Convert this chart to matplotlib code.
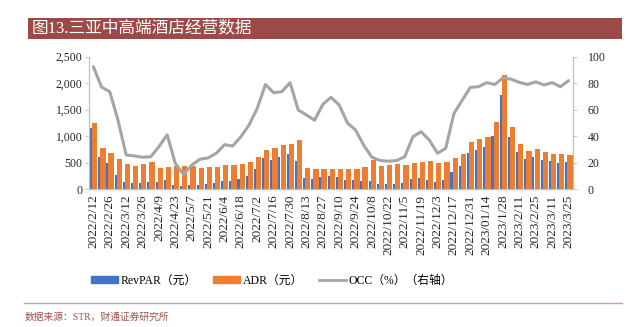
import numpy as np
import matplotlib.pyplot as plt
from matplotlib.patches import Patch, Rectangle
from matplotlib.lines import Line2D

plt.rcParams['font.family'] = ['Liberation Serif', 'Noto Sans CJK SC']

# weekly data, 2022/2/12 - 2023/3/25
revpar = [1150, 600, 498, 265, 126, 107, 107, 126, 126, 170,
          76, 57, 76, 76, 95, 107, 145, 145, 189, 252,
          378, 586, 548, 599, 662, 536, 208, 189, 227, 246,
          227, 170, 170, 145, 145, 95, 90, 95, 107, 189,
          214, 170, 132, 170, 321, 435, 674, 731, 788, 995,
          1777, 983, 693, 567, 599, 548, 529, 498, 510]
adr = [1245, 781, 687, 561, 473, 435, 473, 510, 403, 410,
       441, 435, 441, 390, 416, 416, 460, 460, 479, 510,
       599, 743, 769, 825, 844, 920, 390, 378, 372, 372,
       384, 372, 372, 422, 554, 435, 447, 466, 454, 485,
       517, 536, 498, 510, 580, 655, 882, 951, 983, 1266,
       2148, 1178, 857, 724, 750, 699, 668, 661, 643]
occ = [92.4, 77, 73.5, 52, 25.7, 25, 24, 24.4, 32, 41,
       19.4, 11, 18, 22.5, 23.5, 27, 33.5, 32.5, 39.5, 48.4,
       61, 79, 72.8, 73.6, 80.4, 59.7, 56, 52, 64, 69.3,
       63.5, 50, 44.6, 33, 24, 21.5, 21, 21.5, 24.4, 39.5,
       43.3, 37, 27, 30.7, 57, 67, 76.8, 77.3, 80.4, 79,
       84, 83, 80.6, 79, 81, 78.6, 80.4, 77.3, 81.9]

tick_labels = ['2022/2/12', '2022/2/26', '2022/3/12', '2022/3/26', '2022/4/9',
               '2022/4/23', '2022/5/7', '2022/5/21', '2022/6/4', '2022/6/18',
               '2022/7/2', '2022/7/16', '2022/7/30', '2022/8/13', '2022/8/27',
               '2022/9/10', '2022/9/24', '2022/10/8', '2022/10/22', '2022/11/5',
               '2022/11/19', '2022/12/3', '2022/12/17', '2022/12/31', '2023/01/14',
               '2023/1/28', '2023/2/11', '2023/2/25', '2023/3/11', '2023/3/25']

blue = '#4472C4'
orange = '#ED7D31'
grey = '#A5A5A5'
axcol = '#BFBFBF'

fig = plt.figure(figsize=(6.31, 3.27), dpi=100)

# title band
fig.patches.append(Rectangle((28/631, 1-39/327), 594/631, 21/327, transform=fig.transFigure,
                             facecolor='#9C4A47', edgecolor='none'))
fig.text(32/631, 1-28.5/327, '图13.三亚中高端酒店经营数据', color='white', fontsize=12,
         va='center', ha='left')

ax = fig.add_axes([89.3/631, 1-189/327, 483.4/631, 132.3/327])
x = np.arange(len(adr))
ax.bar(x - 0.29, revpar, width=0.25, color=blue, zorder=2)
ax.bar(x + 0.16, adr, width=0.64, color=orange, zorder=2)
ax.set_xlim(-0.5, len(adr) - 0.5)
ax.set_ylim(0, 2500)
ax.set_yticks(range(0, 2501, 500))
ax.set_yticklabels(['{:,}'.format(v) for v in range(0, 2501, 500)])
ax.set_xticks(x[::2])
ax.set_xticklabels(tick_labels, rotation=90)

ax2 = ax.twinx()
ax2.plot(x, occ, color=grey, lw=2.2, solid_joinstyle='round', solid_capstyle='round', zorder=3)
ax2.set_ylim(0, 100)
ax2.set_yticks(range(0, 101, 20))

for a in (ax, ax2):
    a.spines['top'].set_visible(False)
    for s in ('left', 'right', 'bottom'):
        a.spines[s].set_color(axcol)
        a.spines[s].set_linewidth(0.8)
    a.tick_params(labelsize=8.5, colors='#262626', length=3, width=0.6)
    a.tick_params(axis='both', color=axcol)
ax.tick_params(axis='x', length=0, pad=4, labelsize=9.5)
ax.tick_params(axis='y', pad=2)
ax2.tick_params(axis='y', pad=8)

handles = [Patch(color=blue), Patch(color=orange), Line2D([], [], color=grey, lw=2)]
labels = ['RevPAR（元）', 'ADR（元）', 'OCC（%）（右轴）']
fig.legend(handles, labels, loc='center', bbox_to_anchor=(272/631, 1-281/327), ncol=3,
           frameon=False, fontsize=8.5, handlelength=2.3, handleheight=0.55,
           handletextpad=0.2, columnspacing=1.4)

# footer
fig.add_artist(Line2D([24/631, 622/631], [1-302.5/327, 1-302.5/327], transform=fig.transFigure,
                      color='#C9A09E', lw=1))
fig.text(25/631, 1-317/327, '数据来源：STR，财通证券研究所', color='#A0504C', fontsize=7,
         va='center', ha='left')

fig.savefig('out.png', dpi=100)
